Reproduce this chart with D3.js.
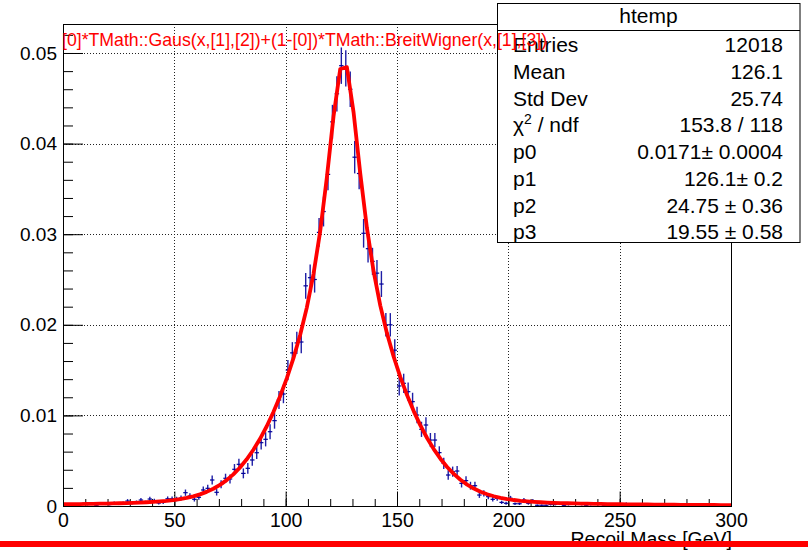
<!DOCTYPE html>
<html>
<head>
<meta charset="utf-8">
<script src="https://cdn.jsdelivr.net/npm/d3@7"></script>
<style>
body { margin: 0; background: #fff; }
svg text { font-family: "Liberation Sans", Arial, Helvetica, sans-serif; }
</style>
</head>
<body>
<svg width="808" height="554"></svg>
<script>

//
// Histogram content, 150 bins of 2 GeV from 0 to 300 (normalised to 1)
//
var binValues = [
  0.00017, 0.00008, 0.00017, 0, 0.00025, 0.00017, 0.00025, 0.00008, 0.00025, 0.00025,
  0.00017, 0.00033, 0.00025, 0.00033,
  0.00055, 0.00033, 0.00042, 0.00066, 0.0004, 0.00077, 0.00059, 0.00033, 0.0004, 0.0008,
  0.0008, 0.00077, 0.00088, 0.00147, 0.0011, 0.00074, 0.00096,
  0.00177, 0.00195, 0.00287, 0.00151, 0.0024, 0.00306, 0.00298, 0.00405, 0.0046, 0.0036,
  0.00416, 0.00508, 0.00588, 0.00699, 0.00736, 0.0082, 0.00942, 0.0117, 0.01236,
  0.0150, 0.0169, 0.0180, 0.0181, 0.0243, 0.0252, 0.0250, 0.0302, 0.0325, 0.0366,
  0.0424, 0.0455, 0.0486, 0.0483, 0.0460, 0.0385, 0.0367, 0.0301, 0.0284, 0.0270,
  0.0257, 0.0245, 0.0200, 0.0200, 0.0172,
  0.01325, 0.01354, 0.01262, 0.01152, 0.01004, 0.00846, 0.00894, 0.00728, 0.00728, 0.00589,
  0.00471, 0.00342, 0.00379, 0.00386, 0.0025, 0.0028, 0.00224, 0.00224, 0.00121, 0.0014,
  0.00103, 0.00074, 0.00085, 0.0004, 0.0003, 0.00085, 0.00025, 0.00025, 0.00066, 0.0003,
  0.00055, 0.00008, 0.00008, 0.00008, 0.00017, 0.00017,
  0.00025, 0.00008, 0.00017, 0.00025, 0, 0.00017, 0.00008, 0.00017, 0, 0.00025,
  0.00008, 0.00017, 0, 0.00008, 0.00017, 0.00025, 0, 0.00008, 0.00017, 0,
  0.00008, 0.00017, 0, 0.00008, 0.00008, 0, 0.00017, 0.00008, 0, 0.00008,
  0, 0.00008, 0.00017, 0, 0.00008, 0, 0.00008, 0, 0.00008
];
var histRange = [0, 300];
var entries = 12018;

// fit parameters p0..p3 from the stats box
var fitParams = [0.0171, 126.1, 24.75, 19.55];

var xTicks = [0, 50, 100, 150, 200, 250, 300];
var yTicks = [0, 0.01, 0.02, 0.03, 0.04, 0.05];

var histName = 'htemp';
var statNames = ['Entries', 'Mean', 'Std Dev', 'chi2', 'p0', 'p1', 'p2', 'p3'];
var statValues = ['12018', '126.1', '25.74', '153.8 / 118',
  '0.0171\u00b1 0.0004', '126.1\u00b1 0.2', '24.75 \u00b1 0.36', '19.55 \u00b1 0.58'];

var fitTitle = '[0]*TMath::Gaus(x,[1],[2])+(1-[0])*TMath::BreitWigner(x,[1],[3])';
var xTitle = 'Recoil Mass [GeV]';


var svg = d3.select('svg');

// frame edges (not "top"/"left": those clash with window globals)
var fL = 63, fR = 731, fT = 24, fB = 506;

var x = d3.scaleLinear().domain(histRange).range([fL, fR]);
var y = d3.scaleLinear().domain([0, 0.0532]).range([fB, fT]);

svg.append('defs').append('clipPath').attr('id', 'frameclip')
  .append('rect')
    .attr('x', fL).attr('y', fT)
    .attr('width', fR - fL).attr('height', fB - fT);

//
// dotted grid
//
svg.selectAll('.gridx')
  .data(xTicks.slice(1, -1))
  .enter().append('line')
    .attr('class', 'gridx')
    .attr('x1', function(d) { return Math.round(x(d)) + 0.5; })
    .attr('x2', function(d) { return Math.round(x(d)) + 0.5; })
    .attr('y1', fT).attr('y2', fB)
    .style('stroke', '#222').style('stroke-dasharray', '1,2');

svg.selectAll('.gridy')
  .data(yTicks.slice(1))
  .enter().append('line')
    .attr('class', 'gridy')
    .attr('x1', fL).attr('x2', fR)
    .attr('y1', function(d) { return Math.round(y(d)) + 0.5; })
    .attr('y2', function(d) { return Math.round(y(d)) + 0.5; })
    .style('stroke', '#222').style('stroke-dasharray', '1,2');

//
// axes: ticks point inwards like ROOT
//
var minorX = d3.range(0, 301, 10);
var minorY = d3.range(0, 0.053, 0.002);

var gx = svg.append('g').attr('transform', 'translate(0,' + fB + ')');
gx.call(d3.axisBottom(x).tickValues(minorX).tickSize(-7).tickFormat(''));
gx.append('g').call(d3.axisBottom(x).tickValues(xTicks).tickSize(-14.5).tickPadding(7).tickFormat(d3.format('d')));
gx.selectAll('.domain').remove();
gx.selectAll('text').attr('font-size', 19.5);

var gy = svg.append('g').attr('transform', 'translate(' + fL + ',0)');
gy.call(d3.axisLeft(y).tickValues(minorY).tickSize(-10).tickFormat(''));
gy.append('g').call(d3.axisLeft(y).tickValues(yTicks).tickSize(-20).tickPadding(6)
  .tickFormat(function(d) { return d === 0 ? '0' : d.toFixed(2); }));
gy.selectAll('.domain').remove();
gy.selectAll('text').attr('font-size', 19);

//
// histogram points with error bars
//
var binWidth = (histRange[1] - histRange[0]) / binValues.length;
var points = [];
binValues.forEach(function(v, i) {
  if (v > 0) {
    var lo = histRange[0] + i * binWidth;
    points.push({lo: lo, hi: lo + binWidth, v: v, e: Math.sqrt(v / entries)});
  }
});

var hist = svg.append('g').attr('clip-path', 'url(#frameclip)');

hist.selectAll('.ey')
  .data(points)
  .enter().append('line')
    .attr('x1', function(d) { return x((d.lo + d.hi) / 2); })
    .attr('x2', function(d) { return x((d.lo + d.hi) / 2); })
    .attr('y1', function(d) { return y(d.v - d.e); })
    .attr('y2', function(d) { return y(d.v + d.e); })
    .style('stroke', '#1f1fa6').style('stroke-width', 1.4);

hist.selectAll('.ex')
  .data(points)
  .enter().append('line')
    .attr('x1', function(d) { return x(d.lo); })
    .attr('x2', function(d) { return x(d.hi); })
    .attr('y1', function(d) { return y(d.v); })
    .attr('y2', function(d) { return y(d.v); })
    .style('stroke', '#000099').style('stroke-width', 1.2);

//
// fitted function, sampled every 3 GeV like a TF1
//
function fitFunc(t) {
  var p = fitParams;
  var gaus = Math.exp(-0.5 * Math.pow((t - p[1]) / p[2], 2));
  var bw = p[3] / (2 * Math.PI) / ((t - p[1]) * (t - p[1]) + p[3] * p[3] / 4);
  return p[0] * gaus + (1 - p[0]) * bw;
}

var samples = [0].concat(d3.range(1.5, 300, 3)).concat([300]);

hist.append('path')
  .datum(samples)
  .attr('d', d3.line().x(function(d) { return x(d); }).y(function(d) { return y(fitFunc(d)); }))
  .style('fill', 'none')
  .style('stroke', '#ff0000')
  .style('stroke-width', 3.8)
  .style('stroke-linejoin', 'round');

// frame
svg.append('rect')
  .attr('x', fL + 0.5).attr('y', fT + 0.5)
  .attr('width', fR - fL).attr('height', fB - fT)
  .style('fill', 'none').style('stroke', '#000');

//
// stats box
//
var stats = svg.append('g');
stats.append('rect')
  .attr('x', 497.5).attr('y', 3.5).attr('width', 302.5).attr('height', 239)
  .style('fill', '#fff').style('stroke', '#000');
stats.append('line')
  .attr('x1', 497.5).attr('x2', 800).attr('y1', 30.5).attr('y2', 30.5)
  .style('stroke', '#000');
stats.append('text')
  .attr('x', 648.5).attr('y', 22.5)
  .attr('text-anchor', 'middle').attr('font-size', 21)
  .text(histName);

statNames.forEach(function(name, i) {
  var by = 52.3 + i * 26.7;
  var t = stats.append('text').attr('x', 513).attr('y', by).attr('font-size', 21);
  if (name === 'chi2') {
    t.append('tspan').text('\u03c7');
    t.append('tspan').attr('font-size', 14).attr('dy', -8).text('2');
    t.append('tspan').attr('dy', 8).text(' / ndf');
  } else {
    t.text(name);
  }
  stats.append('text')
    .attr('x', 783).attr('y', by)
    .attr('text-anchor', 'end').attr('font-size', 21)
    .text(statValues[i]);
});

// function title, drawn last so it sits over the box
svg.append('text')
  .attr('x', 62).attr('y', 46)
  .attr('font-size', 17.7)
  .style('fill', '#ff0000')
  .text(fitTitle);

// x axis title, partly hidden by the red bar below it
svg.append('text')
  .attr('x', 732).attr('y', 546)
  .attr('text-anchor', 'end').attr('font-size', 19.5)
  .text(xTitle);

svg.append('rect')
  .attr('x', 0).attr('y', 541).attr('width', 808).attr('height', 6)
  .style('fill', '#ff0000');

</script>
</body>
</html>
